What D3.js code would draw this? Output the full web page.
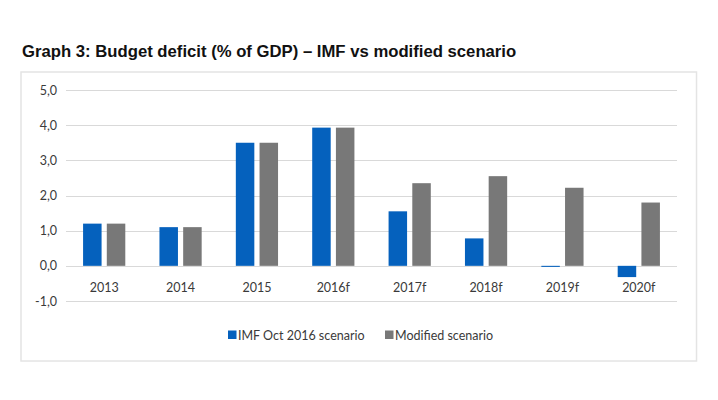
<!DOCTYPE html>
<html><head><meta charset="utf-8">
<script src="https://cdn.jsdelivr.net/npm/d3@7"></script>
<style>body{margin:0;background:#fff;}svg{display:block;}</style>
</head><body>
<svg id="c" width="718" height="400"></svg>
<script>
const categories = ["2013","2014","2015","2016f","2017f","2018f","2019f","2020f"];
const imfValues = [1.2, 1.1, 3.5, 3.93, 1.55, 0.78, -0.03, -0.32];
const modifiedValues = [1.2, 1.1, 3.5, 3.93, 2.35, 2.55, 2.22, 1.8];
const seriesNames = ["IMF Oct 2016 scenario", "Modified scenario"];
const seriesColors = ["#0561bd", "#787878"];
const yTicks = [-1, 0, 1, 2, 3, 4, 5];

const svg = d3.select("#c");
const x = d3.scaleBand().domain(categories).range([66, 677]).paddingInner(0).paddingOuter(0);
const y = d3.scaleLinear().domain([-1, 5]).range([301, 90]);
const x1 = d3.scaleBand().domain([0,1]).range([0, x.bandwidth()]).paddingInner(0.22).paddingOuter(0.72);

// frame
svg.append("rect").attr("x",21).attr("y",72).attr("width",675.5).attr("height",289)
  .attr("fill","none").attr("stroke","#e4e4e4").attr("stroke-width",1.5);

// title
svg.append("text").attr("x",22).attr("y",57).text("Graph 3: Budget deficit (% of GDP) \u2013 IMF vs modified scenario")
  .attr("font-family","Liberation Sans, Arial, sans-serif").attr("font-weight","bold").attr("font-size",16.7).attr("fill","#111");

// gridlines
svg.append("g").selectAll("line").data(yTicks).join("line")
  .attr("x1",66).attr("x2",677).attr("y1",d=>Math.round(y(d))+0.5).attr("y2",d=>Math.round(y(d))+0.5)
  .attr("stroke","#d9d9d9").attr("stroke-width",1);

// y axis labels
const yAxis = d3.axisLeft(y).tickValues(yTicks).tickSize(0).tickPadding(9)
  .tickFormat(d=>d3.format(".1f")(d).replace(".",",").replace("\u2212","-"));
const ga = svg.append("g").attr("transform","translate(66,0)").call(yAxis);
ga.select(".domain").remove();
ga.selectAll("text").attr("font-family","Lato, 'Open Sans', sans-serif").attr("font-size",12.5).attr("fill","#3a3a3a");

// bars
const series = [imfValues, modifiedValues];
series.forEach((vals,si)=>{
  svg.append("g").selectAll("rect").data(vals).join("rect")
    .attr("x",(d,i)=>x(categories[i])+x1(si))
    .attr("width",x1.bandwidth())
    .attr("y",d=>Math.min(y(d),y(0)))
    .attr("height",d=>Math.max(1,Math.abs(y(d)-y(0))))
    .attr("fill",seriesColors[si]);
});

// x labels
const xAxis = d3.axisBottom(x).tickSize(0).tickPadding(0);
const gx = svg.append("g").attr("transform","translate(0,283)").call(xAxis);
gx.select(".domain").remove();
gx.selectAll("text").attr("font-family","Lato, 'Open Sans', sans-serif").attr("font-size",12.5).attr("fill","#3a3a3a").attr("dy","0.71em");

// legend
const legendX = [228, 385];
const lg = svg.append("g");
seriesNames.forEach((n,i)=>{
  lg.append("rect").attr("x",legendX[i]).attr("y",330.5).attr("width",8.5).attr("height",8.5).attr("fill",seriesColors[i]);
  lg.append("text").attr("x",legendX[i]+10).attr("y",339.5).text(n)
    .attr("font-family","Lato, 'Open Sans', sans-serif").attr("font-size",12.5).attr("fill","#3a3a3a");
});
</script>
</body></html>
